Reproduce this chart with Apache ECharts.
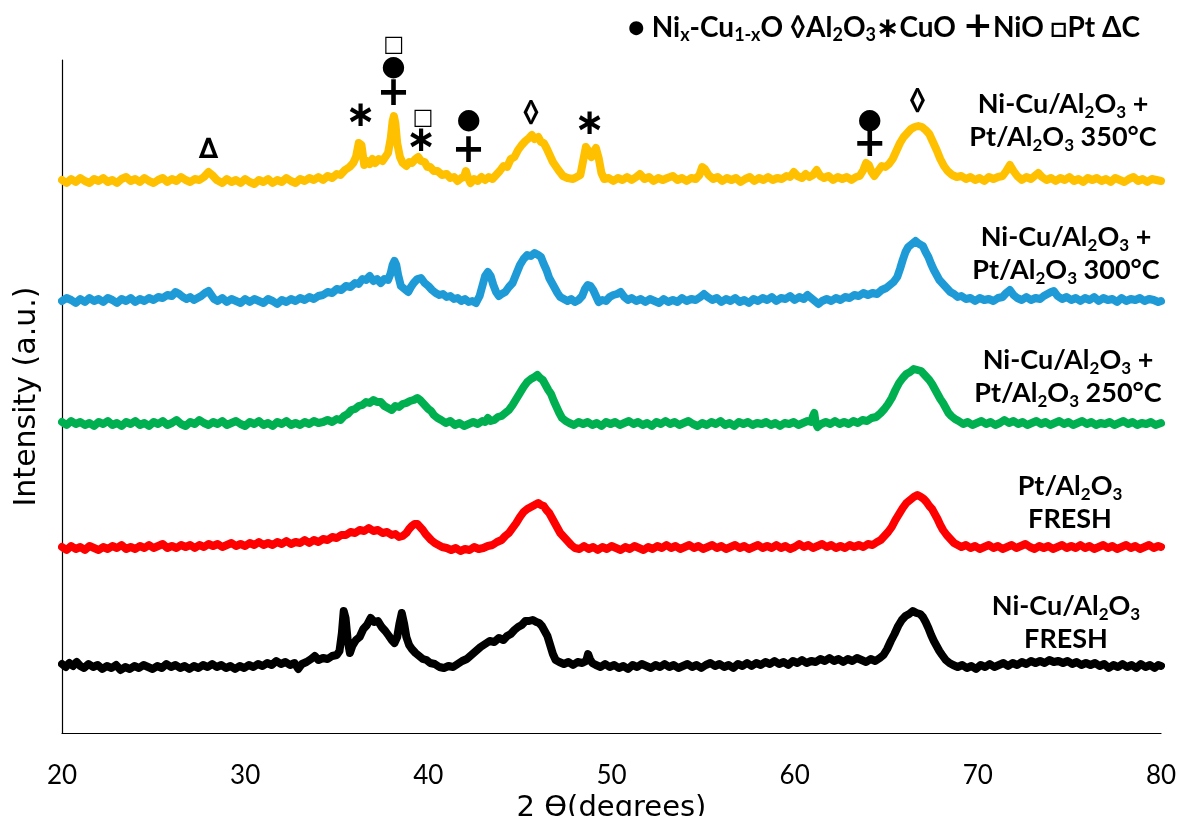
<!DOCTYPE html>
<html><head><meta charset="utf-8">
<script src="https://cdn.jsdelivr.net/npm/echarts@6/dist/echarts.min.js"></script>
<style>html,body{margin:0;padding:0;background:#fff}#c{width:1180px;height:816px}</style>
</head><body><div id="c"></div>
<script>
// ---- data: [2θ (deg), intensity (a.u., vertically offset stack)] ----
const niCuPt350 = [[20.0,553],[20.25,550],[20.5,554],[20.75,551],[21.0,555],[21.25,552],[21.5,550],[21.75,554],[22.0,552],[22.25,555],[22.5,551],[22.75,553],[23.0,550],[23.25,554],[23.5,556],[23.75,552],[24.0,554],[24.25,551],[24.5,555],[24.75,552],[25.0,550],[25.25,553],[25.5,555],[25.75,551],[26.0,554],[26.25,552],[26.5,556],[26.75,553],[27.0,551],[27.25,554],[27.5,553],[27.75,556],[28.0,561],[28.2,558],[28.45,553],[28.75,550],[29.0,554],[29.25,551],[29.5,553],[29.75,550],[30.0,554],[30.25,551],[30.5,549],[30.75,553],[31.0,551],[31.25,554],[31.5,550],[31.75,553],[32.0,551],[32.25,555],[32.5,552],[32.75,550],[33.0,554],[33.25,552],[33.5,555],[33.75,553],[34.0,556],[34.25,553],[34.5,557],[34.75,555],[35.0,559],[35.2,558],[35.45,563],[35.7,566],[35.9,570],[36.05,576],[36.2,590],[36.35,588],[36.5,568],[36.65,572],[36.8,569],[36.95,574],[37.1,570],[37.3,574],[37.5,572],[37.65,576],[37.8,580],[37.95,595],[38.05,612],[38.12,617],[38.2,610],[38.3,590],[38.45,576],[38.6,570],[38.8,567],[38.95,571],[39.1,570],[39.3,574],[39.45,576],[39.6,572],[39.8,571],[39.95,566],[40.1,566],[40.3,562],[40.5,562],[40.75,558],[41.0,559],[41.2,555],[41.4,556],[41.6,552],[41.8,555],[41.95,556],[42.05,562],[42.15,556],[42.3,550],[42.5,554],[42.7,552],[42.9,556],[43.1,553],[43.3,556],[43.5,554],[43.7,558],[43.9,562],[44.1,567],[44.3,566],[44.5,574],[44.7,576],[44.9,583],[45.1,588],[45.3,592],[45.5,595],[45.65,598],[45.8,594],[46.0,596],[46.15,591],[46.3,590],[46.45,585],[46.6,579],[46.8,571],[46.95,567],[47.1,563],[47.35,557],[47.6,555],[47.9,554],[48.1,556],[48.3,558],[48.45,572],[48.6,586],[48.75,582],[48.9,576],[49.05,582],[49.15,585],[49.3,575],[49.45,560],[49.6,554],[49.85,555],[50.1,552],[50.35,555],[50.6,553],[50.85,556],[51.1,553],[51.35,556],[51.55,559],[51.8,554],[52.05,556],[52.3,552],[52.55,555],[52.8,553],[53.05,555],[53.35,557],[53.6,553],[53.85,555],[54.1,552],[54.35,555],[54.6,554],[54.8,558],[54.95,566],[55.1,564],[55.3,558],[55.55,554],[55.8,556],[56.05,552],[56.3,555],[56.55,553],[56.8,555],[57.05,551],[57.3,554],[57.55,556],[57.8,552],[58.05,555],[58.3,553],[58.55,556],[58.8,553],[59.05,555],[59.3,554],[59.55,557],[59.75,556],[59.95,561],[60.15,557],[60.4,555],[60.6,559],[60.8,556],[61.0,558],[61.2,563],[61.4,557],[61.6,555],[61.85,557],[62.1,553],[62.35,556],[62.6,554],[62.85,556],[63.1,553],[63.35,556],[63.55,557],[63.75,563],[63.9,570],[64.05,568],[64.2,561],[64.35,557],[64.55,562],[64.75,567],[64.95,566],[65.15,569],[65.35,574],[65.55,582],[65.75,590],[65.95,596],[66.15,600],[66.35,604],[66.55,606],[66.75,607],[66.95,606],[67.15,603],[67.35,599],[67.55,591],[67.75,583],[67.95,574],[68.15,567],[68.35,562],[68.6,558],[68.85,556],[69.1,557],[69.35,554],[69.6,556],[69.85,553],[70.1,555],[70.35,552],[70.6,556],[70.85,554],[71.1,556],[71.35,557],[71.55,562],[71.75,568],[71.95,562],[72.15,557],[72.4,553],[72.65,556],[72.9,554],[73.1,557],[73.3,560],[73.5,556],[73.75,553],[74.0,555],[74.25,552],[74.5,555],[74.75,553],[75.0,556],[75.25,552],[75.5,554],[75.75,551],[76.0,555],[76.25,553],[76.5,555],[76.75,552],[77.0,554],[77.25,551],[77.5,555],[77.75,553],[78.0,551],[78.25,554],[78.5,556],[78.75,552],[79.0,554],[79.25,551],[79.5,554],[79.75,553],[80.0,552]];

const niCuPt300 = [[20.0,432],[20.25,435],[20.5,433],[20.75,430],[21.0,434],[21.25,431],[21.5,435],[21.75,432],[22.0,434],[22.25,431],[22.5,435],[22.75,433],[23.0,430],[23.25,434],[23.5,432],[23.75,435],[24.0,431],[24.25,434],[24.5,432],[24.75,435],[25.0,433],[25.25,436],[25.5,435],[25.75,438],[26.0,437],[26.2,441],[26.4,439],[26.6,436],[26.8,434],[27.0,436],[27.2,433],[27.4,435],[27.6,437],[27.8,440],[28.0,442],[28.15,438],[28.3,434],[28.5,432],[28.75,435],[29.0,431],[29.25,434],[29.5,432],[29.75,430],[30.0,434],[30.25,431],[30.5,434],[30.75,432],[31.0,430],[31.25,434],[31.5,432],[31.75,429],[32.0,433],[32.25,431],[32.5,434],[32.75,432],[33.0,435],[33.25,433],[33.5,436],[33.75,434],[34.0,437],[34.25,438],[34.5,441],[34.75,440],[35.0,444],[35.25,443],[35.5,447],[35.75,446],[36.0,450],[36.2,449],[36.4,454],[36.6,453],[36.8,457],[37.0,452],[37.2,454],[37.4,450],[37.6,454],[37.8,453],[37.95,460],[38.05,468],[38.15,472],[38.25,468],[38.35,458],[38.5,447],[38.7,444],[38.9,441],[39.05,446],[39.2,450],[39.4,454],[39.6,455],[39.8,450],[40.0,447],[40.2,443],[40.4,440],[40.6,438],[40.8,439],[41.0,436],[41.2,437],[41.4,434],[41.6,435],[41.8,432],[42.0,434],[42.2,431],[42.4,432],[42.6,430],[42.8,437],[42.95,447],[43.1,457],[43.25,461],[43.4,457],[43.55,448],[43.7,441],[43.85,437],[44.0,439],[44.2,441],[44.4,446],[44.6,450],[44.8,459],[45.0,468],[45.2,474],[45.4,478],[45.6,477],[45.8,480],[46.0,478],[46.15,476],[46.3,469],[46.45,463],[46.6,455],[46.75,450],[46.9,445],[47.05,440],[47.2,436],[47.4,434],[47.6,432],[47.8,434],[48.0,431],[48.2,433],[48.4,437],[48.55,444],[48.7,448],[48.85,447],[49.0,443],[49.15,437],[49.3,431],[49.5,433],[49.7,432],[49.9,436],[50.1,438],[50.3,439],[50.5,441],[50.7,436],[50.9,433],[51.1,435],[51.35,432],[51.6,434],[51.85,431],[52.1,434],[52.35,432],[52.6,430],[52.85,434],[53.1,431],[53.35,433],[53.6,431],[53.85,435],[54.1,432],[54.35,434],[54.6,433],[54.85,436],[55.05,439],[55.25,436],[55.5,433],[55.75,435],[56.0,431],[56.25,434],[56.5,432],[56.75,435],[57.0,431],[57.25,433],[57.5,430],[57.75,434],[58.0,432],[58.25,435],[58.5,433],[58.75,436],[59.0,432],[59.25,435],[59.5,434],[59.75,437],[60.0,433],[60.25,436],[60.5,434],[60.7,438],[60.9,435],[61.1,432],[61.3,429],[61.5,432],[61.75,434],[62.0,432],[62.25,435],[62.5,433],[62.75,436],[63.0,435],[63.25,438],[63.5,437],[63.75,440],[64.0,438],[64.25,440],[64.5,439],[64.75,443],[65.0,445],[65.2,448],[65.4,451],[65.6,456],[65.75,464],[65.9,473],[66.05,481],[66.2,486],[66.4,489],[66.6,492],[66.8,489],[67.0,487],[67.15,481],[67.3,476],[67.45,469],[67.6,463],[67.75,458],[67.9,453],[68.1,449],[68.3,445],[68.5,441],[68.7,439],[68.9,436],[69.1,437],[69.35,434],[69.6,435],[69.85,432],[70.1,435],[70.35,433],[70.6,434],[70.85,432],[71.1,435],[71.35,436],[71.55,440],[71.75,443],[71.95,438],[72.15,435],[72.4,433],[72.65,436],[72.9,433],[73.15,435],[73.4,434],[73.6,437],[73.8,439],[74.0,441],[74.15,442],[74.35,437],[74.6,434],[74.85,436],[75.1,433],[75.35,435],[75.6,432],[75.85,435],[76.1,433],[76.35,436],[76.6,432],[76.85,435],[77.1,433],[77.35,434],[77.6,431],[77.85,435],[78.1,432],[78.35,434],[78.6,433],[78.85,435],[79.1,432],[79.35,434],[79.6,433],[79.85,431],[80.0,432]];

const niCuPt250 = [[20.0,311],[20.25,308],[20.5,312],[20.75,309],[21.0,311],[21.25,308],[21.5,310],[21.75,307],[22.0,311],[22.25,309],[22.5,312],[22.75,308],[23.0,310],[23.25,307],[23.5,311],[23.75,309],[24.0,312],[24.25,308],[24.5,310],[24.75,307],[25.0,311],[25.25,309],[25.5,312],[25.75,308],[26.0,310],[26.25,313],[26.5,309],[26.75,307],[27.0,311],[27.25,309],[27.5,313],[27.75,310],[28.0,308],[28.25,311],[28.5,309],[28.75,312],[29.0,308],[29.25,310],[29.5,312],[29.75,309],[30.0,307],[30.25,311],[30.5,309],[30.75,312],[31.0,308],[31.25,310],[31.5,307],[31.75,311],[32.0,309],[32.25,312],[32.5,308],[32.75,310],[33.0,308],[33.25,311],[33.5,309],[33.75,312],[34.0,310],[34.25,311],[34.5,313],[34.75,311],[35.0,314],[35.2,313],[35.4,317],[35.6,319],[35.8,323],[36.0,324],[36.2,327],[36.4,328],[36.6,331],[36.8,330],[37.0,333],[37.2,331],[37.4,331],[37.6,327],[37.8,325],[38.0,323],[38.2,327],[38.4,326],[38.6,329],[38.8,330],[39.0,332],[39.2,333],[39.4,335],[39.55,333],[39.7,330],[39.85,327],[40.0,324],[40.15,322],[40.3,318],[40.5,315],[40.7,313],[40.95,310],[41.2,312],[41.45,308],[41.7,310],[41.95,307],[42.2,309],[42.45,311],[42.7,309],[42.95,312],[43.1,311],[43.25,315],[43.4,312],[43.6,313],[43.8,316],[44.0,317],[44.2,320],[44.4,323],[44.6,328],[44.8,334],[45.0,340],[45.2,346],[45.4,351],[45.6,354],[45.8,356],[45.95,358],[46.1,355],[46.25,353],[46.4,348],[46.55,343],[46.7,339],[46.85,332],[47.0,326],[47.15,320],[47.3,315],[47.5,312],[47.7,310],[47.95,308],[48.2,311],[48.45,309],[48.7,311],[48.95,308],[49.2,310],[49.45,307],[49.7,311],[49.95,309],[50.2,311],[50.45,308],[50.7,310],[50.95,312],[51.2,309],[51.45,311],[51.7,308],[51.95,310],[52.2,307],[52.45,311],[52.7,309],[52.95,312],[53.2,309],[53.45,311],[53.7,308],[53.95,310],[54.2,312],[54.45,309],[54.7,307],[54.95,310],[55.2,308],[55.45,311],[55.7,309],[55.95,312],[56.2,308],[56.45,310],[56.7,307],[56.95,311],[57.2,309],[57.45,311],[57.7,308],[57.95,310],[58.2,309],[58.45,311],[58.7,308],[58.95,310],[59.2,307],[59.45,310],[59.7,309],[59.95,311],[60.2,308],[60.45,310],[60.7,312],[60.9,311],[61.0,317],[61.07,320],[61.15,310],[61.25,306],[61.45,309],[61.7,311],[61.95,309],[62.2,312],[62.45,309],[62.7,311],[62.95,309],[63.2,312],[63.45,310],[63.7,313],[63.95,312],[64.2,315],[64.45,316],[64.7,320],[64.9,324],[65.1,329],[65.3,335],[65.5,343],[65.7,350],[65.9,355],[66.1,359],[66.3,361],[66.5,364],[66.7,363],[66.9,362],[67.05,359],[67.2,356],[67.35,353],[67.5,349],[67.65,344],[67.8,339],[67.95,334],[68.1,330],[68.25,325],[68.4,320],[68.55,317],[68.75,314],[68.95,312],[69.2,309],[69.45,311],[69.7,308],[69.95,310],[70.2,312],[70.45,309],[70.7,311],[70.95,308],[71.2,310],[71.45,313],[71.7,310],[71.95,312],[72.2,309],[72.45,311],[72.7,308],[72.95,310],[73.2,312],[73.45,309],[73.7,311],[73.95,308],[74.2,310],[74.45,312],[74.7,309],[74.95,311],[75.2,308],[75.45,310],[75.7,312],[75.95,309],[76.2,311],[76.45,308],[76.7,310],[76.95,309],[77.2,311],[77.45,308],[77.7,310],[77.95,312],[78.2,309],[78.45,311],[78.7,308],[78.95,310],[79.2,309],[79.45,311],[79.7,308],[80.0,310]];

const ptFresh = [[20.0,186],[20.25,183],[20.5,187],[20.75,184],[21.0,186],[21.25,183],[21.5,187],[21.75,185],[22.0,183],[22.25,186],[22.5,184],[22.75,187],[23.0,185],[23.25,188],[23.5,184],[23.75,186],[24.0,184],[24.25,187],[24.5,185],[24.75,188],[25.0,185],[25.25,187],[25.5,189],[25.75,185],[26.0,187],[26.25,185],[26.5,188],[26.75,186],[27.0,188],[27.25,185],[27.5,188],[27.75,186],[28.0,189],[28.25,187],[28.5,189],[28.75,186],[29.0,188],[29.25,190],[29.5,187],[29.75,189],[30.0,187],[30.25,190],[30.5,188],[30.75,191],[31.0,188],[31.25,190],[31.5,188],[31.75,191],[32.0,189],[32.25,192],[32.5,189],[32.75,191],[33.0,190],[33.25,193],[33.5,190],[33.75,193],[34.0,191],[34.25,194],[34.5,193],[34.75,196],[35.0,195],[35.25,198],[35.5,198],[35.75,201],[36.0,200],[36.25,203],[36.5,202],[36.75,205],[37.0,202],[37.25,203],[37.5,200],[37.75,201],[38.0,198],[38.2,199],[38.4,196],[38.6,197],[38.8,200],[38.95,204],[39.1,207],[39.25,209],[39.4,209],[39.55,206],[39.7,203],[39.85,199],[40.0,196],[40.15,193],[40.35,190],[40.55,188],[40.75,186],[41.0,185],[41.25,183],[41.5,185],[41.75,182],[42.0,184],[42.25,183],[42.5,186],[42.75,184],[43.0,185],[43.25,187],[43.5,188],[43.75,191],[44.0,193],[44.2,197],[44.4,200],[44.6,205],[44.8,210],[45.0,216],[45.2,221],[45.4,224],[45.6,226],[45.8,228],[46.0,230],[46.15,228],[46.3,227],[46.45,223],[46.6,220],[46.75,215],[46.9,210],[47.05,205],[47.2,200],[47.35,197],[47.5,194],[47.65,191],[47.8,188],[48.0,185],[48.25,184],[48.5,187],[48.75,184],[49.0,186],[49.25,183],[49.5,186],[49.75,184],[50.0,187],[50.25,185],[50.5,183],[50.75,186],[51.0,184],[51.25,187],[51.5,185],[51.75,183],[52.0,186],[52.25,184],[52.5,187],[52.75,185],[53.0,188],[53.25,185],[53.5,187],[53.75,184],[54.0,186],[54.25,188],[54.5,185],[54.75,187],[55.0,184],[55.25,186],[55.5,188],[55.75,185],[56.0,187],[56.25,184],[56.5,186],[56.75,188],[57.0,185],[57.25,187],[57.5,184],[57.75,186],[58.0,188],[58.25,185],[58.5,187],[58.75,185],[59.0,188],[59.25,185],[59.5,187],[59.75,184],[60.0,186],[60.25,189],[60.5,186],[60.75,188],[61.0,185],[61.25,187],[61.5,189],[61.75,186],[62.0,188],[62.25,185],[62.5,187],[62.75,185],[63.0,188],[63.25,186],[63.5,188],[63.75,186],[64.0,189],[64.25,188],[64.5,191],[64.7,193],[64.9,197],[65.1,201],[65.3,206],[65.5,213],[65.7,219],[65.9,225],[66.1,230],[66.3,233],[66.5,236],[66.7,238],[66.9,236],[67.05,234],[67.2,231],[67.35,227],[67.5,224],[67.65,219],[67.8,214],[67.95,208],[68.1,203],[68.3,198],[68.5,194],[68.7,190],[68.9,188],[69.1,186],[69.35,188],[69.6,185],[69.85,187],[70.1,184],[70.35,186],[70.6,188],[70.85,185],[71.1,187],[71.35,184],[71.6,186],[71.85,188],[72.1,185],[72.35,187],[72.6,189],[72.85,186],[73.1,184],[73.35,187],[73.6,185],[73.85,187],[74.1,184],[74.35,186],[74.6,188],[74.85,185],[75.1,187],[75.35,185],[75.6,188],[75.85,185],[76.1,187],[76.35,184],[76.6,186],[76.85,188],[77.1,185],[77.35,187],[77.6,184],[77.85,186],[78.1,188],[78.35,185],[78.6,187],[78.85,184],[79.1,186],[79.35,188],[79.6,185],[79.85,187],[80.0,186]];

const niCuFresh = [[20.0,69],[20.2,66],[20.4,70],[20.6,67],[20.8,71],[21.0,67],[21.2,65],[21.45,69],[21.7,66],[21.95,68],[22.2,64],[22.45,67],[22.7,65],[22.95,68],[23.2,63],[23.45,66],[23.7,64],[23.95,67],[24.2,65],[24.45,68],[24.7,66],[24.95,64],[25.2,67],[25.45,65],[25.7,69],[25.95,66],[26.2,68],[26.45,65],[26.7,67],[26.95,64],[27.2,67],[27.45,65],[27.7,68],[27.95,66],[28.2,69],[28.45,66],[28.7,68],[28.95,65],[29.2,67],[29.45,64],[29.7,67],[29.95,65],[30.2,68],[30.45,66],[30.7,69],[30.95,67],[31.2,70],[31.45,68],[31.7,72],[31.95,69],[32.2,71],[32.45,68],[32.7,70],[32.9,64],[33.1,69],[33.35,71],[33.6,74],[33.8,77],[34.0,73],[34.25,75],[34.5,74],[34.75,77],[35.0,78],[35.15,82],[35.28,100],[35.38,122],[35.48,115],[35.6,92],[35.72,80],[35.85,87],[36.05,93],[36.25,96],[36.45,104],[36.65,108],[36.85,115],[37.05,111],[37.25,112],[37.45,106],[37.65,102],[37.85,97],[38.0,93],[38.15,90],[38.3,96],[38.43,110],[38.55,120],[38.67,110],[38.8,96],[38.95,88],[39.1,84],[39.3,80],[39.5,77],[39.7,74],[39.9,73],[40.1,70],[40.35,69],[40.6,66],[40.85,65],[41.1,67],[41.35,66],[41.6,69],[41.85,72],[42.1,74],[42.35,78],[42.6,82],[42.85,86],[43.1,89],[43.35,92],[43.6,91],[43.85,95],[44.1,93],[44.3,97],[44.5,99],[44.7,103],[44.9,106],[45.1,108],[45.3,112],[45.5,112],[45.7,113],[45.9,111],[46.05,110],[46.2,107],[46.35,102],[46.5,97],[46.65,88],[46.8,79],[46.95,73],[47.15,71],[47.4,69],[47.65,71],[47.9,68],[48.15,71],[48.4,70],[48.62,72],[48.72,79],[48.82,74],[48.95,70],[49.15,68],[49.4,66],[49.65,69],[49.9,66],[50.15,68],[50.4,65],[50.65,67],[50.9,64],[51.15,68],[51.4,66],[51.65,69],[51.9,67],[52.15,65],[52.4,68],[52.65,66],[52.9,69],[53.15,66],[53.4,68],[53.65,65],[53.9,67],[54.15,69],[54.4,66],[54.65,68],[54.9,65],[55.15,68],[55.4,70],[55.65,67],[55.9,69],[56.15,66],[56.4,68],[56.65,65],[56.9,69],[57.15,67],[57.4,70],[57.65,67],[57.9,70],[58.15,68],[58.4,71],[58.65,69],[58.9,72],[59.15,69],[59.4,71],[59.65,68],[59.9,72],[60.15,70],[60.4,73],[60.65,70],[60.9,72],[61.15,71],[61.4,74],[61.65,72],[61.9,75],[62.15,72],[62.4,74],[62.65,71],[62.9,74],[63.15,72],[63.4,75],[63.65,73],[63.9,71],[64.15,74],[64.4,72],[64.65,75],[64.85,78],[65.05,84],[65.25,92],[65.45,99],[65.65,107],[65.85,113],[66.05,117],[66.25,119],[66.45,122],[66.65,120],[66.85,119],[67.0,116],[67.15,111],[67.3,105],[67.45,98],[67.6,92],[67.75,87],[67.9,82],[68.05,78],[68.25,73],[68.45,70],[68.65,68],[68.9,66],[69.15,68],[69.4,65],[69.65,67],[69.9,64],[70.15,68],[70.4,66],[70.65,69],[70.9,66],[71.15,68],[71.4,70],[71.65,67],[71.9,70],[72.15,68],[72.4,71],[72.65,69],[72.9,72],[73.15,70],[73.4,72],[73.65,70],[73.9,73],[74.15,71],[74.4,72],[74.65,70],[74.9,72],[75.15,69],[75.4,71],[75.65,68],[75.9,70],[76.15,68],[76.4,70],[76.65,67],[76.9,69],[77.15,65],[77.4,68],[77.65,66],[77.9,69],[78.15,66],[78.4,68],[78.65,65],[78.9,69],[79.15,66],[79.4,68],[79.65,65],[79.85,68],[80.0,67]];

// phase markers above the 350°C pattern
const annoX    = [28.0, 36.3, 38.1, 38.1, 38.1, 39.7, 39.6, 42.2, 42.2, 45.6, 48.8, 64.1, 64.1, 66.7];
const annoY    = [584,  616,  688,  665,  638,  615,  591,  612,  581,  620,  608,  612,  587,  632];
const annoText = ['∆',  '∗',  '□',  '●',  '+',  '□',  '∗',  '●',  '+',  '◊',  '∗',  '●',  '+',  '◊'];

const xTicks = {min: 20, max: 80, step: 10};
const yRange = {min: 0, max: 673};

const seriesLabels = [
  'Ni-Cu/Al{s|2}O{s|3} +\nPt/Al{s|2}O{s|3} 350°C',
  'Ni-Cu/Al{s|2}O{s|3} +\nPt/Al{s|2}O{s|3} 300°C',
  'Ni-Cu/Al{s|2}O{s|3} +\nPt/Al{s|2}O{s|3} 250°C',
  'Pt/Al{s|2}O{s|3}\nFRESH',
  'Ni-Cu/Al{s|2}O{s|3}\nFRESH'
];
const legendText = '● Ni{s|x}-Cu{s|1-x}O ◊Al{s|2}O{s|3}∗CuO {p|+}NiO □Pt ΔC';

// ---- styles ----
const FONT = 'Lato, "DejaVu Sans", sans-serif';
const DJ = '"DejaVu Sans", sans-serif';
const colors = ['#FFC000', '#1E9BD7', '#00B050', '#FF0000', '#000000'];
const datasets = [niCuPt350, niCuPt300, niCuPt250, ptFresh, niCuFresh];
const labelPos = [[1063,121],[1066,254],[1068,377],[1070,503],[1066,623]];
const glyphStyle = {
  '∆': {size: 28, font: FONT},
  '∗': {size: 36, font: DJ},
  '□': {size: 22, font: DJ},
  '●': {size: 28, font: DJ},
  '+': {size: 40, font: DJ},
  '◊': {size: 30, font: FONT}
};

const richSub = {
  s: {fontSize: 17, fontWeight: 'bold', fontFamily: FONT, verticalAlign: 'bottom', lineHeight: 24},
  p: {fontSize: 34, fontWeight: 'bold', fontFamily: DJ, lineHeight: 30}
};

const chart = echarts.init(document.getElementById('c'), null, {renderer: 'canvas'});

const lineSeries = datasets.map((d, i) => ({
  type: 'line', data: d, showSymbol: false, symbol: 'none',
  lineStyle: {color: colors[i], width: 8, cap: 'round', join: 'round'},
  itemStyle: {color: colors[i]}, z: 2, silent: true
}));

const annoSeries = {
  type: 'scatter', z: 5, silent: true, clip: false,
  symbolSize: 1, itemStyle: {color: 'rgba(0,0,0,0)', opacity: 1},
  data: annoX.map((x, i) => ({
    value: [x, annoY[i]],
    itemStyle: {opacity: 1},
    label: {
      show: true, position: 'inside', formatter: annoText[i],
      fontSize: glyphStyle[annoText[i]].size, fontWeight: 'bold', color: '#000',
      textBorderWidth: 0, textShadowBlur: 0, opacity: 1,
      fontFamily: glyphStyle[annoText[i]].font
    }
  }))
};

const graphics = seriesLabels.map((t, i) => ({
  type: 'text', x: labelPos[i][0], y: labelPos[i][1], z: 10,
  style: {
    text: t, align: 'center', verticalAlign: 'middle',
    font: 'bold 27px ' + FONT, fill: '#000', lineHeight: 33,
    rich: richSub
  }
}));
graphics.push({
  type: 'text', x: 1140, y: 28, z: 10,
  style: {
    text: legendText, align: 'right', verticalAlign: 'middle',
    font: 'bold 28px ' + FONT, fill: '#000', lineHeight: 32,
    rich: {
      s: {fontSize: 18, fontWeight: 'bold', fontFamily: FONT, verticalAlign: 'bottom', lineHeight: 26},
      p: {fontSize: 36, fontWeight: 'bold', fontFamily: DJ, lineHeight: 32}
    }
  }
});

chart.setOption({
  animation: false,
  backgroundColor: '#fff',
  grid: {left: 62, right: 19, top: 60, bottom: 83, containLabel: false, outerBoundsMode: 'none'},
  xAxis: {
    type: 'value', min: xTicks.min, max: xTicks.max, interval: xTicks.step,
    axisLine: {show: true, onZero: false, lineStyle: {color: '#000', width: 1.2}},
    axisTick: {show: false}, splitLine: {show: false},
    axisLabel: {fontSize: 26, color: '#000', fontFamily: FONT, margin: 30},
    name: '2 ϴ(degrees)', nameLocation: 'middle', nameGap: 52,
    nameTextStyle: {fontSize: 29, color: '#000', fontFamily: DJ}
  },
  yAxis: {
    type: 'value', min: yRange.min, max: yRange.max,
    axisLine: {show: true, lineStyle: {color: '#000', width: 1.2}},
    axisTick: {show: false}, splitLine: {show: false},
    axisLabel: {show: false},
    name: 'Intensity (a.u.)', nameLocation: 'middle', nameGap: 20,
    nameTextStyle: {fontSize: 30, color: '#000', fontFamily: DJ}
  },
  series: lineSeries.concat([annoSeries]),
  graphic: graphics
});
</script>
</body></html>
